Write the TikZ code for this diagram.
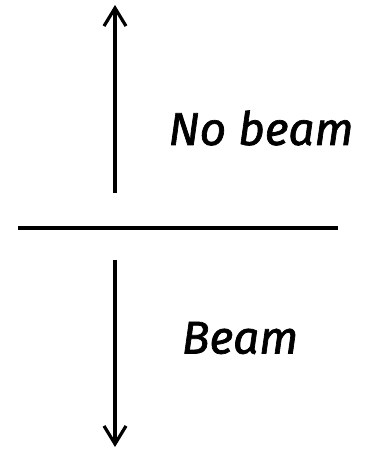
\documentclass[tikz,border=0pt]{standalone}
\usepackage{fontspec}
\setmainfont{Fira Sans}
\newfontfamily\tagfont[FakeBold=1.5]{Fira Sans}
\usetikzlibrary{arrows.meta}
\begin{document}
\begin{tikzpicture}[x=1pt,y=1pt,
    wire/.style={line width=3.2pt},
    flow/.style={wire,-{Straight Barb[length=18pt,width=22pt,line width=3.2pt]}},
    tag/.style={font=\tagfont\fontsize{46}{52}\selectfont\itshape,inner sep=0pt}]

    \useasboundingbox (0,0) rectangle (370,449);

    % Ends
    \coordinate (left) at (18,221);
    \coordinate (right) at (338,221);
    \coordinate (upfoot) at (115,256);
    \coordinate (uptip) at (115,444);
    \coordinate (downfoot) at (115,189);
    \coordinate (downtip) at (115,2);

    \draw[wire] (left) -- (right);
    \draw[flow] (upfoot) -- (uptip);
    \draw[flow] (downfoot) -- (downtip);

    \node[tag] (nobeam) at (261,321) {No beam};
    \node[tag] (beam) at (240,111) {Beam};

\end{tikzpicture}
\end{document}
